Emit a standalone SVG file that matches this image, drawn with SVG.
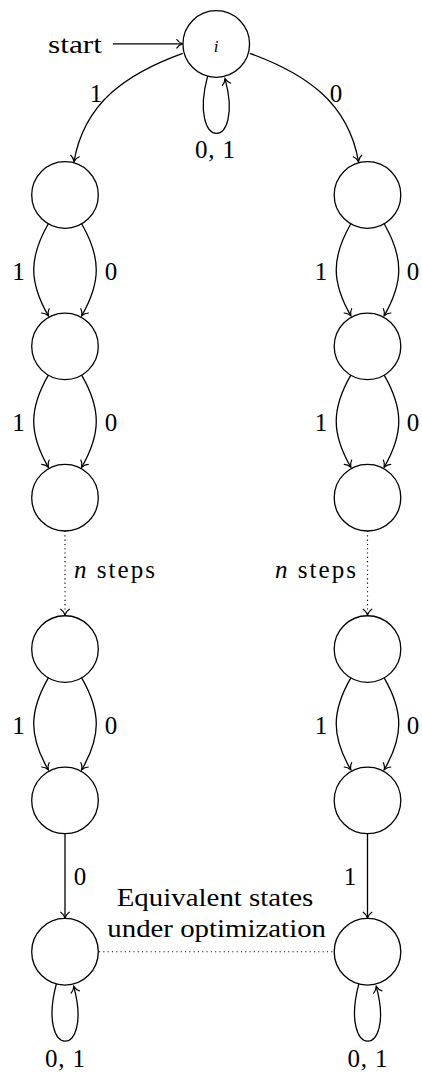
<svg xmlns="http://www.w3.org/2000/svg" width="422" height="1072" viewBox="0 0 422 1072">
<defs>
<marker id="ar" markerUnits="userSpaceOnUse" viewBox="-8 -6 10 12" refX="0" refY="0" markerWidth="10" markerHeight="12" orient="auto">
<path d="M -5.8 -4.3 C -4.4 -2 -1.8 -0.6 0 0 C -1.8 0.6 -4.4 2 -5.8 4.3" fill="none" stroke="#000" stroke-width="1.2" stroke-linecap="round" stroke-dasharray="none"/>
</marker>
</defs>
<g id="connectors" fill="none" stroke="#000" stroke-width="1.3" marker-end="url(#ar)">
<path d="M 113 43.8 L 182.6 43.8"/>
<path d="M 182.7 53.3 C 126.3 73.7 84.2 102.9 74 161.7"/>
<path d="M 249.8 53.3 C 306.2 73.7 348.3 102.9 358.5 161.7"/>
<path d="M 207.6 76.2 C 187.5 152 245 152 225 78.6"/>
<path d="M 48.35 223.8 C 28.85 257.6 28.85 282.05 48.35 315.85"/>
<path d="M 81.65 223.8 C 101.15 257.6 101.15 282.05 81.65 315.85"/>
<path d="M 48.35 375.15 C 28.85 408.95 28.85 433.4 48.35 467.2"/>
<path d="M 81.65 375.15 C 101.15 408.95 101.15 433.4 81.65 467.2"/>
<path d="M 350.85 223.8 C 331.35 257.6 331.35 282.05 350.85 315.85"/>
<path d="M 384.15 223.8 C 403.65 257.6 403.65 282.05 384.15 315.85"/>
<path d="M 350.85 375.15 C 331.35 408.95 331.35 433.4 350.85 467.2"/>
<path d="M 384.15 375.15 C 403.65 408.95 403.65 433.4 384.15 467.2"/>
<g stroke-width="1.2" stroke-dasharray="1.1 3.2">
<path d="M 65 531 L 65 615"/>
<path d="M 367.5 531 L 367.5 615"/>
<path d="M 99 951.75 L 333.5 951.75" marker-end="none"/>
</g>
<path d="M 48.35 677.85 C 28.85 711.65 28.85 736.1 48.35 769.9"/>
<path d="M 81.65 677.85 C 101.15 711.65 101.15 736.1 81.65 769.9"/>
<path d="M 350.85 677.85 C 331.35 711.65 331.35 736.1 350.85 769.9"/>
<path d="M 384.15 677.85 C 403.65 711.65 403.65 736.1 384.15 769.9"/>
<path d="M 65 833.7 L 65 918"/>
<path d="M 367.5 833.7 L 367.5 918"/>
<path transform="translate(65 951.75)" d="M -8.65 32.2 C -28.75 108 28.75 108 8.75 34.6"/>
<path transform="translate(367.5 951.75)" d="M -8.65 32.2 C -28.75 108 28.75 108 8.75 34.6"/>
</g>
<g id="labels" font-family="Liberation Serif" font-size="25" fill="#000">
<text x="48" y="52.5" textLength="54" lengthAdjust="spacingAndGlyphs">start</text>
<g text-anchor="middle">
<text x="96" y="101.5">1</text>
<text x="336" y="101.5">0</text>
<text x="215" y="158" textLength="40">0, 1</text>
<text x="18.5" y="280">1</text>
<text x="111" y="280">0</text>
<text x="18.5" y="431">1</text>
<text x="111" y="431">0</text>
<text x="321" y="280">1</text>
<text x="413" y="280">0</text>
<text x="321" y="431">1</text>
<text x="413" y="431">0</text>
<text x="18.5" y="734">1</text>
<text x="111" y="734">0</text>
<text x="321" y="734">1</text>
<text x="413" y="734">0</text>
<text x="80" y="885">0</text>
<text x="350" y="885">1</text>
<text x="65" y="1066.5" textLength="40">0, 1</text>
<text x="367.5" y="1066.5" textLength="40">0, 1</text>
</g>
<text x="74" y="578" textLength="81"><tspan font-style="italic">n</tspan> steps</text>
<text x="275" y="578" textLength="81"><tspan font-style="italic">n</tspan> steps</text>
<text x="116.7" y="905.7" textLength="196.6" lengthAdjust="spacingAndGlyphs">Equivalent states</text>
<text x="107.3" y="936.7" textLength="218.7" lengthAdjust="spacingAndGlyphs">under optimization</text>
</g>
<g id="nodes" fill="#fff" stroke="#000" stroke-width="1.3">
<g id="node-i"><circle cx="216.25" cy="44" r="33.3"/><text x="216" y="51.5" text-anchor="middle" font-family="Liberation Serif" font-style="italic" font-size="17" fill="#000" stroke="none">i</text></g>
<g id="node-L1"><circle cx="65" cy="195" r="33.3"/></g>
<g id="node-L2"><circle cx="65" cy="346.35" r="33.3"/></g>
<g id="node-L3"><circle cx="65" cy="497.7" r="33.3"/></g>
<g id="node-L4"><circle cx="65" cy="649.05" r="33.3"/></g>
<g id="node-L5"><circle cx="65" cy="800.4" r="33.3"/></g>
<g id="node-L6"><circle cx="65" cy="951.75" r="33.3"/></g>
<g id="node-R1"><circle cx="367.5" cy="195" r="33.3"/></g>
<g id="node-R2"><circle cx="367.5" cy="346.35" r="33.3"/></g>
<g id="node-R3"><circle cx="367.5" cy="497.7" r="33.3"/></g>
<g id="node-R4"><circle cx="367.5" cy="649.05" r="33.3"/></g>
<g id="node-R5"><circle cx="367.5" cy="800.4" r="33.3"/></g>
<g id="node-R6"><circle cx="367.5" cy="951.75" r="33.3"/></g>
</g>
</svg>
